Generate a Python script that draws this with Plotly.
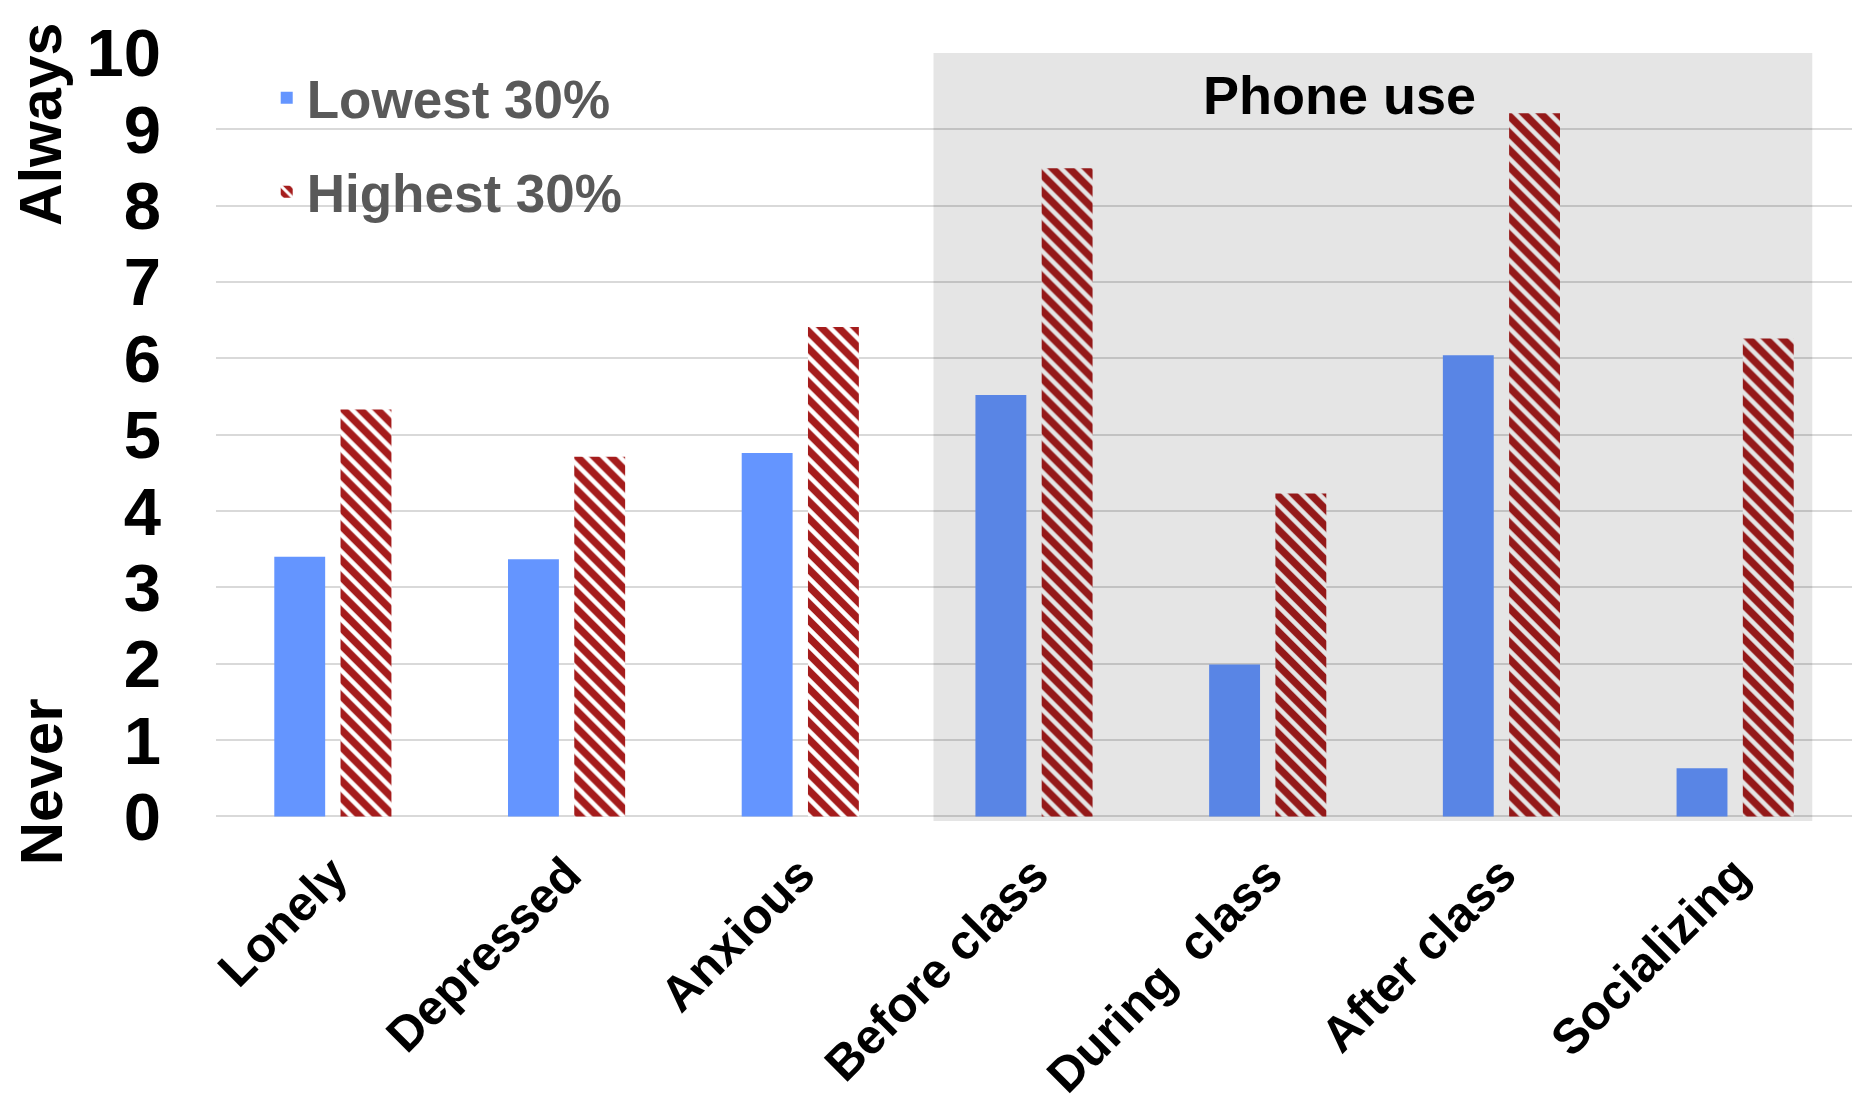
import plotly.graph_objects as go

categories = ["Lonely", "Depressed", "Anxious", "Before class", "During  class", "After class", "Socializing"]
lowest_30 = [3.40, 3.37, 4.76, 5.52, 1.99, 6.04, 0.63]
highest_30 = [5.33, 4.71, 6.41, 8.49, 4.23, 9.21, 6.26]
y_ticks = list(range(0, 11))

FONT = "Arial, 'Liberation Sans', sans-serif"

fig = go.Figure()
fig.add_trace(go.Bar(
    x=categories, y=lowest_30, name="Lowest 30%",
    marker=dict(color="#6495ff", line=dict(width=0)),
    legendgroup="a",
))
fig.add_trace(go.Bar(
    x=categories, y=highest_30, name="Highest 30%",
    marker=dict(color="#a51c1c", line=dict(width=0),
                pattern=dict(shape="\\", fgcolor="#ffffff", bgcolor="#a51c1c",
                             size=12, solidity=0.38, fillmode="replace")),
    legendgroup="b",
))

# shaded "Phone use" region
fig.add_shape(type="rect", xref="x", yref="y", x0=2.57, x1=6.33, y0=-0.06, y1=10,
              fillcolor="rgba(0,0,0,0.1)", line=dict(width=0), layer="above")

fig.add_annotation(text="Phone use", x=4.305, y=9.45, xref="x", yref="y", showarrow=False,
                   xanchor="center",
                   font=dict(family=FONT, size=54, color="#000000", weight="bold"))
fig.add_annotation(text="Always", x=-0.107, y=9.07, xref="paper", yref="y", showarrow=False,
                   xanchor="center", yanchor="middle",
                   textangle=-90, font=dict(family=FONT, size=59, color="#000000", weight="bold"))
fig.add_annotation(text="Never", x=-0.107, y=0.46, xref="paper", yref="y", showarrow=False,
                   xanchor="center", yanchor="middle",
                   textangle=-90, font=dict(family=FONT, size=60, color="#000000", weight="bold"))

fig.update_layout(
    width=1852, height=1116,
    margin=dict(l=216, r=0, t=53, b=295),
    paper_bgcolor="white", plot_bgcolor="white",
    barmode="group", bargap=0.433, bargroupgap=0.232,
    font=dict(family=FONT, color="#000000"),
    legend=dict(
        x=0.031, y=0.995, xanchor="left", yanchor="top",
        font=dict(family=FONT, size=53, color="#595959", weight="bold"),
        bgcolor="rgba(0,0,0,0)", tracegroupgap=22, traceorder="grouped",
    ),
    showlegend=True,
)
fig.update_yaxes(
    range=[-0.06, 10], tickvals=y_ticks, ticktext=[str(v) for v in y_ticks],
    showgrid=True, gridcolor="#d9d9d9", gridwidth=2,
    zeroline=True, zerolinecolor="#d9d9d9", zerolinewidth=2,
    showline=False, ticks="", ticklabelstandoff=54, automargin=False,
    tickfont=dict(family=FONT, size=67, color="#000000", weight="bold"),
)
fig.update_xaxes(
    tickangle=-45, showgrid=False, showline=False, ticks="",
    ticklabelstandoff=14, automargin=False,
    tickfont=dict(family=FONT, size=49, color="#000000", weight="bold"),
)

fig.write_html("out.html")
